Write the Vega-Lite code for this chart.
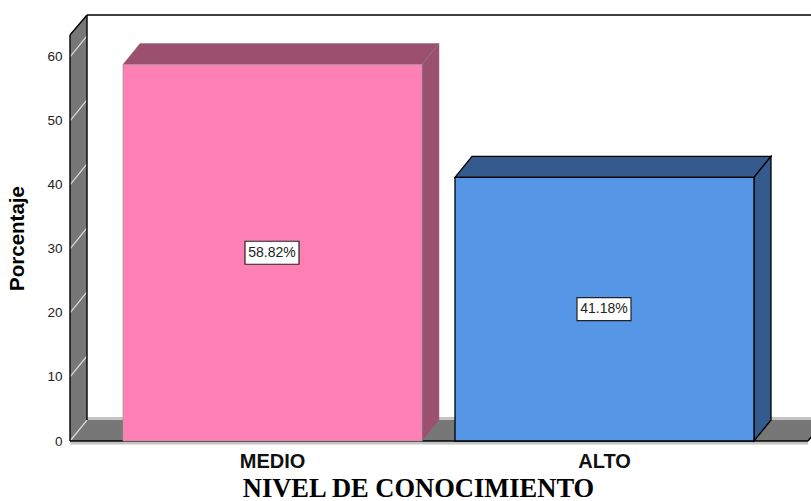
{
"$schema":"https://vega.github.io/schema/vega-lite/v6.json",
"width":811,"height":441,"autosize":{"type":"none"},
"padding":{"left":0,"top":0,"right":0,"bottom":60},
"background":"white",
"view":{"stroke":null},
"config":{"font":"Liberation Sans"},
"datasets":{
"bars":[{"nivel":"MEDIO","x":123,"x2":422,"y":58.82,"y2":0},{"nivel":"ALTO","x":455,"x2":754,"y":41.18,"y2":0}],
"labels":[{"nivel":"MEDIO","x":272,"y":29.41,"label":"58.82%"},{"nivel":"ALTO","x":604,"y":20.59,"label":"41.18%"}],
"faces":[
{"part":"floor","x":70,"y":0,"y2":0},{"part":"floor","x":87,"y":3.28,"y2":0},{"part":"floor","x":808,"y":3.28,"y2":0},{"part":"floor","x":811,"y":3.28,"y2":0.6},
{"part":"wall","x":70,"y":63.44,"y2":0},{"part":"wall","x":87,"y":66.56,"y2":3.28},
{"part":"medioTop","x":123,"y":58.82,"y2":58.82},{"part":"medioTop","x":140,"y":62.1,"y2":58.82},{"part":"medioTop","x":422,"y":62.1,"y2":58.82},{"part":"medioTop","x":439,"y":62.1,"y2":62.1},
{"part":"medioSide","x":422,"y":58.82,"y2":0},{"part":"medioSide","x":439,"y":62.1,"y2":3.28},
{"part":"altoTop","x":455,"y":41.18,"y2":41.18},{"part":"altoTop","x":472,"y":44.46,"y2":41.18},{"part":"altoTop","x":754,"y":44.46,"y2":41.18},{"part":"altoTop","x":771,"y":44.46,"y2":44.46},
{"part":"altoSide","x":754,"y":41.18,"y2":0},{"part":"altoSide","x":771,"y":44.46,"y2":3.28}
],
"lines":[
{"kind":"shade","x":87,"x2":811,"y":3.5,"y2":3.5},
{"kind":"shade","x":70,"x2":808,"y":-0.3,"y2":-0.3},
{"kind":"grid","x":70,"x2":87,"y":0,"y2":3.28},
{"kind":"grid","x":70,"x2":87,"y":10,"y2":13.28},
{"kind":"grid","x":70,"x2":87,"y":20,"y2":23.28},
{"kind":"grid","x":70,"x2":87,"y":30,"y2":33.28},
{"kind":"grid","x":70,"x2":87,"y":40,"y2":43.28},
{"kind":"grid","x":70,"x2":87,"y":50,"y2":53.28},
{"kind":"grid","x":70,"x2":87,"y":60,"y2":63.28},
{"kind":"edge","x":70,"x2":87,"y":63.44,"y2":66.56},
{"kind":"edge","x":87,"x2":811,"y":66.56,"y2":66.56},
{"kind":"edge","x":70,"x2":70,"y":0,"y2":63.44},
{"kind":"edge","x":87,"x2":87,"y":3.28,"y2":66.56},
{"kind":"edge","x":70,"x2":808,"y":0,"y2":0},
{"kind":"edge","x":808,"x2":811,"y":0,"y2":0.6}
]
},
"encoding":{
"x":{"field":"x","type":"quantitative","scale":{"domain":[0,811],"nice":false,"zero":false},
 "axis":{"values":[272,604],"labelExpr":"datum.value==272?'MEDIO':'ALTO'","grid":false,"ticks":false,"domain":false,"labelFont":"Liberation Sans","labelFontWeight":"bold","labelFontSize":20,"labelColor":"#111","labelPadding":10,"labelFlush":false,"labelOverlap":false,
 "title":"NIVEL DE CONOCIMIENTO","titleFont":"Liberation Serif","titleFontWeight":"bold","titleFontSize":26.5,"titleColor":"#000","titleX":418,"titleY":47,"titleAlign":"center","titleBaseline":"middle"}},
"y":{"field":"y","type":"quantitative","scale":{"domain":[0,68.9],"nice":false,"zero":false},
 "axis":{"values":[0,10,20,30,40,50,60],"grid":false,"ticks":false,"domain":false,"offset":-70,"labelFont":"Liberation Sans","labelFontSize":13.5,"labelColor":"#222","labelPadding":8,
 "title":"Porcentaje","titleFont":"Liberation Sans","titleFontWeight":"bold","titleFontSize":20.5,"titleColor":"#000","titleX":-53,"titleY":238,"titleAngle":-90,"titleAlign":"center","titleBaseline":"middle"}}
},
"layer":[
{"data":{"name":"lines"},"transform":[{"filter":"datum.kind==='shade'"}],"mark":{"type":"rule","color":"#c4c4c4","strokeWidth":3},"encoding":{"x2":{"field":"x2"},"y2":{"field":"y2"}}},
{"data":{"name":"faces"},"transform":[{"filter":"datum.part==='floor'||datum.part==='wall'"}],"mark":{"type":"area","orient":"vertical","color":"#777777"},"encoding":{"y2":{"field":"y2"},"detail":{"field":"part"}}},
{"data":{"name":"lines"},"transform":[{"filter":"datum.kind==='grid'"}],"mark":{"type":"rule","color":"#dddddd","strokeWidth":1.2},"encoding":{"x2":{"field":"x2"},"y2":{"field":"y2"}}},
{"data":{"name":"lines"},"transform":[{"filter":"datum.kind==='edge'"}],"mark":{"type":"rule","color":"#000000","strokeWidth":1.4},"encoding":{"x2":{"field":"x2"},"y2":{"field":"y2"}}},
{"data":{"name":"faces"},"transform":[{"filter":"datum.part==='medioTop'||datum.part==='medioSide'"}],"mark":{"type":"area","orient":"vertical","color":"#9b5070","stroke":"#8a6a78","strokeWidth":0.5},"encoding":{"y2":{"field":"y2"},"detail":{"field":"part"}}},
{"data":{"name":"faces"},"transform":[{"filter":"datum.part==='altoTop'||datum.part==='altoSide'"}],"mark":{"type":"area","orient":"vertical","color":"#355a8e","stroke":"#000000","strokeWidth":1.3},"encoding":{"y2":{"field":"y2"},"detail":{"field":"part"}}},
{"data":{"name":"bars"},"transform":[{"filter":"datum.nivel==='MEDIO'"}],"mark":{"type":"rect","color":"#ff80b4","stroke":"#999999","strokeWidth":0.7},"encoding":{"x2":{"field":"x2"},"y2":{"field":"y2"}}},
{"data":{"name":"bars"},"transform":[{"filter":"datum.nivel==='ALTO'"}],"mark":{"type":"rect","color":"#5596e6","stroke":"#000000","strokeWidth":1.3},"encoding":{"x2":{"field":"x2"},"y2":{"field":"y2"}}},
{"data":{"name":"labels"},"mark":{"type":"rect","width":54,"height":23,"fill":"#ffffff","stroke":"#222222","strokeWidth":1.2}},
{"data":{"name":"labels"},"mark":{"type":"text","font":"Liberation Sans","fontSize":14,"color":"#222222","align":"center","baseline":"middle"},"encoding":{"text":{"field":"label"}}}
]
}
